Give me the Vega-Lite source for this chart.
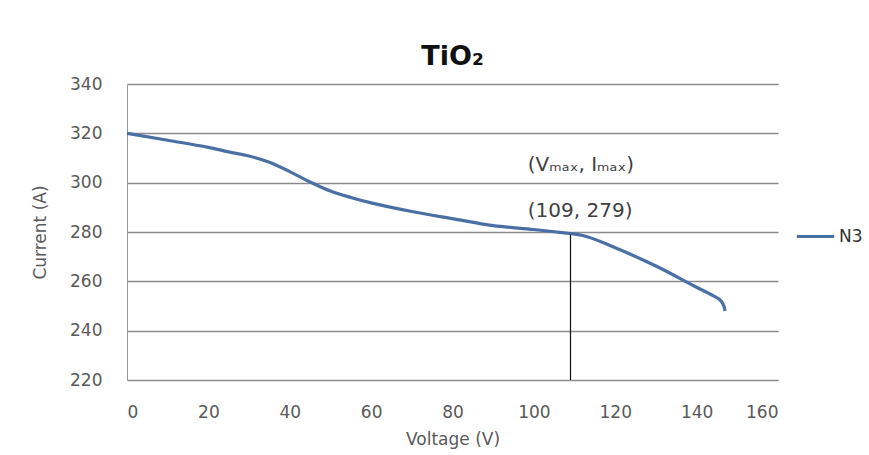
{
  "$schema": "https://vega.github.io/schema/vega-lite/v6.json",
  "autosize": {"type": "none"},
  "width": 651,
  "height": 296,
  "padding": {"left": 127, "top": 84, "right": 91, "bottom": 75},
  "background": "white",
  "config": {
    "font": "DejaVu Sans",
    "view": {"stroke": null},
    "axis": {"labelFont": "DejaVu Sans", "titleFont": "DejaVu Sans", "labelColor": "#595959", "titleColor": "#595959", "labelFontSize": 17, "titleFontSize": 17, "titleFontWeight": "normal"}
  },
  "title": {"text": "TiO₂", "fontSize": 27, "fontWeight": "bold", "color": "#111111", "anchor": "middle", "frame": "group", "offset": 4, "font": "DejaVu Sans"},
  "datasets": {
    "curve": [
      {"V": 0, "I": 320, "s": "N3"},
      {"V": 10, "I": 317.2, "s": "N3"},
      {"V": 20, "I": 314.3, "s": "N3"},
      {"V": 25, "I": 312.5, "s": "N3"},
      {"V": 30, "I": 310.8, "s": "N3"},
      {"V": 35, "I": 308.3, "s": "N3"},
      {"V": 40, "I": 304.5, "s": "N3"},
      {"V": 45, "I": 300.3, "s": "N3"},
      {"V": 50, "I": 296.6, "s": "N3"},
      {"V": 55, "I": 294, "s": "N3"},
      {"V": 60, "I": 291.8, "s": "N3"},
      {"V": 70, "I": 288.3, "s": "N3"},
      {"V": 80, "I": 285.4, "s": "N3"},
      {"V": 90, "I": 282.6, "s": "N3"},
      {"V": 100, "I": 281, "s": "N3"},
      {"V": 105, "I": 280.1, "s": "N3"},
      {"V": 109, "I": 279.4, "s": "N3"},
      {"V": 112, "I": 278.6, "s": "N3"},
      {"V": 120, "I": 273.6, "s": "N3"},
      {"V": 130, "I": 266.2, "s": "N3"},
      {"V": 140, "I": 257.6, "s": "N3"},
      {"V": 144, "I": 254.2, "s": "N3"},
      {"V": 146, "I": 252, "s": "N3"},
      {"V": 146.8, "I": 249.5, "s": "N3"},
      {"V": 147, "I": 248, "s": "N3"}
    ],
    "vline": [{"V": 109, "I": 279, "I2": 220}],
    "notes": [
      {"V": 98.5, "I": 307, "t": "(Vₘₐₓ, Iₘₐₓ)"},
      {"V": 98.5, "I": 288.6, "t": "(109, 279)"}
    ]
  },
  "layer": [
    {
      "data": {"name": "curve"},
      "mark": {"type": "line", "interpolate": "monotone", "strokeWidth": 3.2, "clip": false},
      "encoding": {
        "x": {"field": "V", "type": "quantitative", "scale": {"domain": [0, 160], "nice": false}, "axis": {"title": "Voltage (V)", "values": [0, 20, 40, 60, 80, 100, 120, 140, 160], "grid": false, "domain": false, "ticks": false, "labelPadding": 24, "titlePadding": 11}},
        "y": {"field": "I", "type": "quantitative", "scale": {"domain": [220, 340], "nice": false, "zero": false}, "axis": {"title": "Current (A)", "values": [220, 240, 260, 280, 300, 320, 340], "grid": true, "gridColor": "#8c8c8c", "gridWidth": 1.3, "domain": true, "domainColor": "#999999", "ticks": false, "labelPadding": 25, "titlePadding": 20}},
        "color": {"field": "s", "type": "nominal", "scale": {"range": ["#4a6fa5"]}, "legend": {"title": null, "orient": "none", "legendX": 668, "legendY": 132, "symbolType": "stroke", "symbolStrokeWidth": 3.2, "symbolSize": 1400, "labelFontSize": 17, "labelColor": "#333333", "labelFont": "DejaVu Sans", "labelOffset": 3}}
      }
    },
    {
      "data": {"name": "vline"},
      "mark": {"type": "rule", "color": "#111111", "strokeWidth": 1.2},
      "encoding": {
        "x": {"field": "V", "type": "quantitative"},
        "y": {"field": "I", "type": "quantitative"},
        "y2": {"field": "I2"}
      }
    },
    {
      "data": {"name": "notes"},
      "mark": {"type": "text", "align": "left", "baseline": "middle", "fontSize": 20, "color": "#404040", "font": "DejaVu Sans"},
      "encoding": {
        "x": {"field": "V", "type": "quantitative"},
        "y": {"field": "I", "type": "quantitative"},
        "text": {"field": "t"}
      }
    }
  ]
}
